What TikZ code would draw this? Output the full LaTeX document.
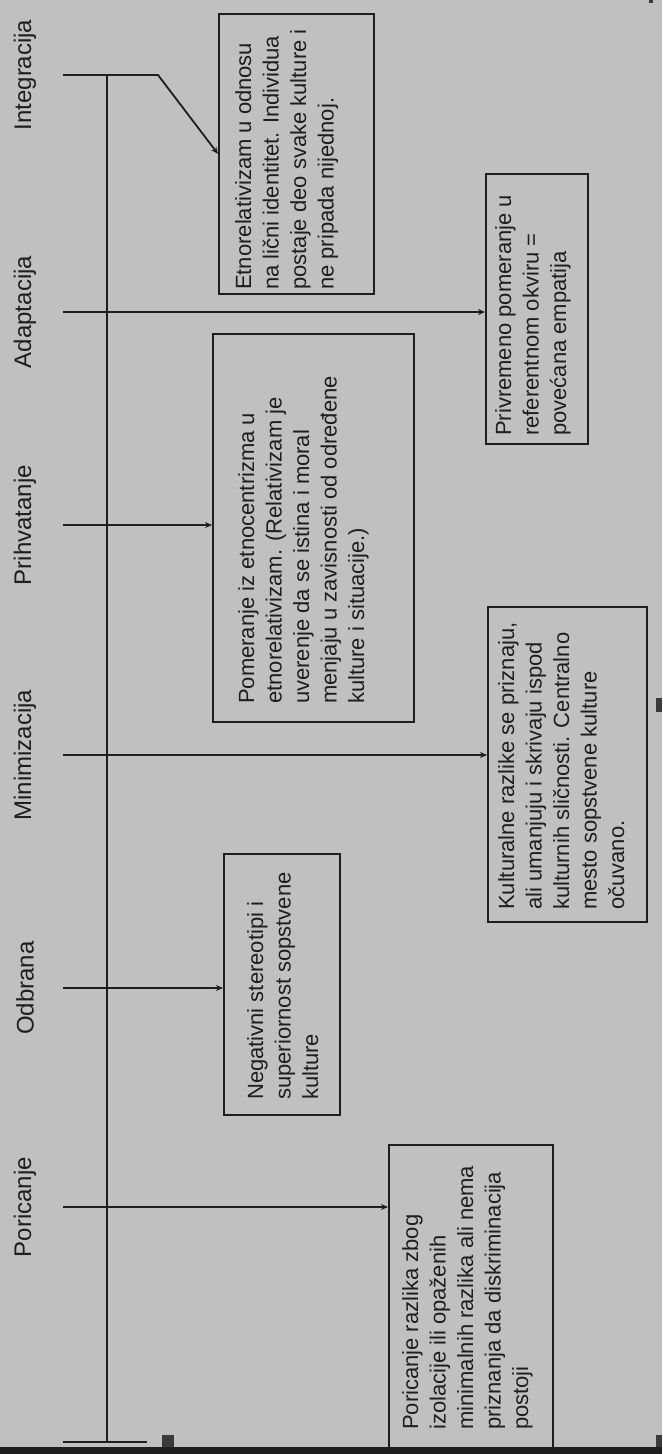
\documentclass[tikz,border=0pt]{standalone}
\usepackage{fontspec}
\setmainfont{Liberation Sans}
\usetikzlibrary{arrows.meta}
\definecolor{bg}{HTML}{C0C0C0}
\definecolor{ink}{HTML}{1E1E1E}
\definecolor{sqc}{HTML}{3A3A3A}
\begin{document}
\begin{tikzpicture}[x=1pt,y=-1pt,
  ln/.style={draw=ink,line width=1.8pt},
  arr/.style={ln,-{Stealth[length=7pt,width=6pt]}},
  box/.style={draw=ink,line width=1.8pt,rectangle,inner sep=0pt,anchor=north west},
  txt/.style={rotate=90,anchor=north west,inner sep=0pt,align=left,text=ink,font=\fontsize{22}{27.5}\selectfont},
  lab/.style={rotate=90,inner sep=0pt,text=ink,font=\fontsize{24}{28}\selectfont}]
\fill[bg] (0,0) rectangle (662,1454);
\useasboundingbox (0,0) rectangle (662,1454);

% boxes
\node[box,minimum width=155pt,minimum height=280pt] (bInt) at (218,13) {};
\node[box,minimum width=102pt,minimum height=270pt] (bAd) at (485,173) {};
\node[box,minimum width=201pt,minimum height=388pt] (bPri) at (212,333) {};
\node[box,minimum width=159pt,minimum height=315pt] (bMin) at (487,606) {};
\node[box,minimum width=116pt,minimum height=261pt] (bOdb) at (223,853) {};
\node[box,minimum width=164pt,minimum height=303pt] (bPor) at (388,1144) {};

% box texts
\node[txt] (xInt) at (235,290) {Etnorelativizam u odnosu\\na lični identitet. Individua\\postaje deo svake kulture i\\ne pripada nijednoj.};
\node[txt] (xAd) at (495,436) {Privremeno pomeranje u\\referentnom okviru =\\povećana empatija};
\node[txt] (xPri) at (238,704) {Pomeranje iz etnocentrizma u\\etnorelativizam. (Relativizam je\\uverenje da se istina i moral\\menjaju u zavisnosti od određene\\kulture i situacije.)};
\node[txt] (xMin) at (498,910) {Kulturalne razlike se priznaju,\\ali umanjuju i skrivaju ispod\\kulturnih sličnosti. Centralno\\mesto sopstvene kulture\\očuvano.};
\node[txt] (xOdb) at (247,1100) {Negativni stereotipi i\\superiornost sopstvene\\kulture};
\node[txt] (xPor) at (402,1430) {Poricanje razlika zbog\\izolacije ili opaženih\\minimalnih razlika ali nema\\priznanja da diskriminacija\\postoji};

% stage labels
\node[lab] (lInt) at (25,75) {Integracija};
\node[lab] (lAd) at (25,312) {Adaptacija};
\node[lab] (lPri) at (25,525) {Prihvatanje};
\node[lab] (lMin) at (25,755) {Minimizacija};
\node[lab] (lOdb) at (25,988) {Odbrana};
\node[lab] (lPor) at (25,1207) {Poricanje};

% axis and ticks
\coordinate (aTop) at (107,75);
\coordinate (aBot) at (107,1442);
\coordinate (tInt) at (63,75);
\coordinate (kInt) at (158,75);
\coordinate (tAd) at (63,312);
\coordinate (tPri) at (63,525);
\coordinate (tMin) at (63,755);
\coordinate (tOdb) at (63,988);
\coordinate (tPor) at (63,1207);
\coordinate (tEnd) at (63,1442);
\coordinate (kEnd) at (147,1442);

\draw[ln] (aTop) -- (aBot);
\draw[ln] (tEnd) -- (kEnd);
\draw[arr] (tInt) -- (kInt) -- (bInt.west);
\draw[arr] (tAd) -- (tAd -| bAd.west);
\draw[arr] (tPri) -- (tPri -| bPri.west);
\draw[arr] (tMin) -- (tMin -| bMin.west);
\draw[arr] (tOdb) -- (tOdb -| bOdb.west);
\draw[arr] (tPor) -- (tPor -| bPor.west);

% small marks and bottom bar
\fill[sqc] (162,1435) rectangle (174,1448);
\fill[sqc] (656,1435) rectangle (662,1448);
\fill[sqc] (656,698) rectangle (662,712);
\fill[sqc] (649,0) rectangle (653,3);
\fill[ink] (0,1447) rectangle (662,1454);
\end{tikzpicture}
\end{document}
